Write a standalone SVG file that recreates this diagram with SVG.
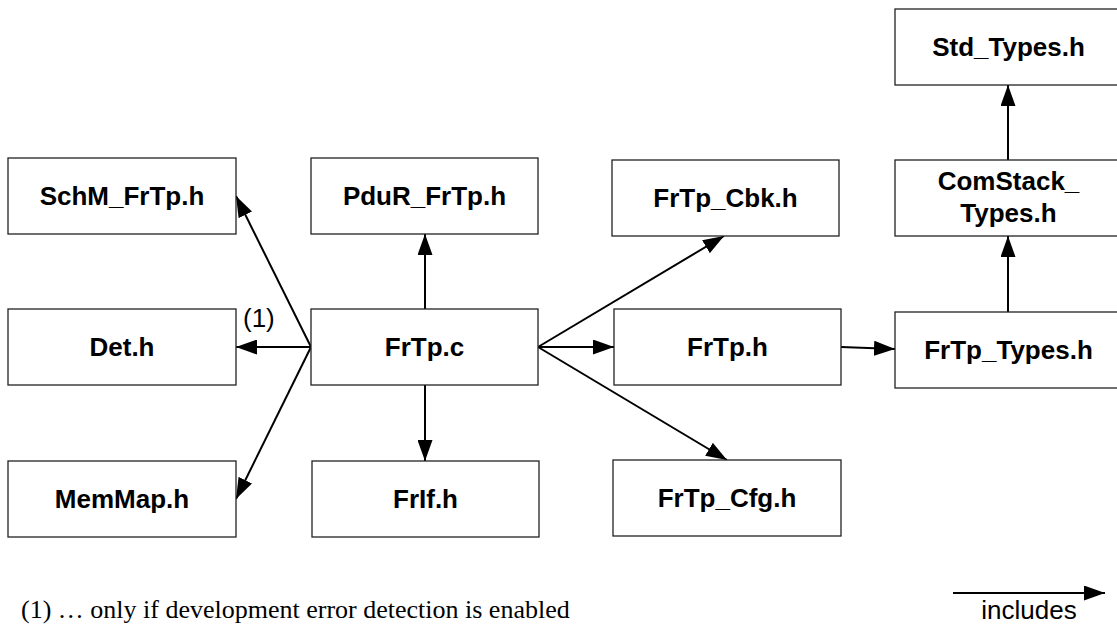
<svg xmlns="http://www.w3.org/2000/svg" width="1117" height="624" viewBox="0 0 1117 624">
<style>
.box{fill:#fff;stroke:#222;stroke-width:1.3}
.lbl{font-family:"Liberation Sans",Arial,sans-serif;font-weight:bold;font-size:26px;fill:#000;text-anchor:middle}
.con{stroke:#000;stroke-width:2;fill:none;marker-end:url(#ah)}
.note{font-family:"Liberation Serif","Times New Roman",serif;font-size:26px;fill:#000}
.reg{font-family:"Liberation Sans",Arial,sans-serif;font-size:26px;fill:#000}
</style>
<defs>
<marker id="ah" markerUnits="userSpaceOnUse" markerWidth="21" markerHeight="15" refX="21" refY="7.5" orient="auto">
<path d="M0,0 L21,7.5 L0,15 z" fill="#000"/>
</marker>
</defs>
<rect width="1117" height="624" fill="#fff"/>
<g id="connectors">
<line class="con" x1="311" y1="347" x2="236" y2="196"/>
<line class="con" x1="311" y1="347" x2="236" y2="347"/>
<line class="con" x1="311" y1="347" x2="236" y2="499"/>
<line class="con" x1="425" y1="309" x2="425" y2="234"/>
<line class="con" x1="425" y1="385" x2="425" y2="461"/>
<line class="con" x1="538" y1="347" x2="724" y2="236"/>
<line class="con" x1="538" y1="347" x2="614" y2="347"/>
<line class="con" x1="538" y1="347" x2="727" y2="460"/>
<line class="con" x1="841" y1="347" x2="895" y2="349"/>
<line class="con" x1="1008" y1="312" x2="1008" y2="236"/>
<line class="con" x1="1008" y1="160" x2="1008" y2="85"/>
</g>
<g id="SchM_FrTp"><rect class="box" x="8" y="158" width="228" height="76"/><text class="lbl" x="122" y="205">SchM_FrTp.h</text></g>
<g id="PduR_FrTp"><rect class="box" x="311" y="158" width="227" height="76"/><text class="lbl" x="424.5" y="205">PduR_FrTp.h</text></g>
<g id="FrTp_Cbk"><rect class="box" x="612" y="160" width="227" height="76"/><text class="lbl" x="725.5" y="207">FrTp_Cbk.h</text></g>
<g id="Std_Types"><rect class="box" x="895" y="9" width="227" height="76"/><text class="lbl" x="1008.5" y="56">Std_Types.h</text></g>
<g id="ComStack_Types"><rect class="box" x="895" y="160" width="227" height="76"/><text class="lbl" x="1008.5" y="190">ComStack_</text><text class="lbl" x="1008.5" y="222">Types.h</text></g>
<g id="Det"><rect class="box" x="8" y="309" width="228" height="76"/><text class="lbl" x="122" y="356">Det.h</text></g>
<g id="FrTp_c"><rect class="box" x="311" y="309" width="227" height="76"/><text class="lbl" x="424.5" y="356">FrTp.c</text></g>
<g id="FrTp_h"><rect class="box" x="614" y="309" width="227" height="76"/><text class="lbl" x="727.5" y="356">FrTp.h</text></g>
<g id="FrTp_Types"><rect class="box" x="895" y="312" width="227" height="76"/><text class="lbl" x="1008.5" y="359">FrTp_Types.h</text></g>
<g id="MemMap"><rect class="box" x="8" y="461" width="228" height="76"/><text class="lbl" x="122" y="508">MemMap.h</text></g>
<g id="FrIf"><rect class="box" x="312" y="461" width="227" height="76"/><text class="lbl" x="425.5" y="508">FrIf.h</text></g>
<g id="FrTp_Cfg"><rect class="box" x="613" y="460" width="228" height="76"/><text class="lbl" x="727" y="507">FrTp_Cfg.h</text></g>
<text class="reg" x="243" y="327" font-size="29">(1)</text>
<text class="note" x="21" y="618">(1) … only if development error detection is enabled</text>
<g id="legend">
<line class="con" x1="953" y1="593" x2="1105" y2="593"/>
<text class="reg" x="1029" y="619" text-anchor="middle">includes</text>
</g>
</svg>
